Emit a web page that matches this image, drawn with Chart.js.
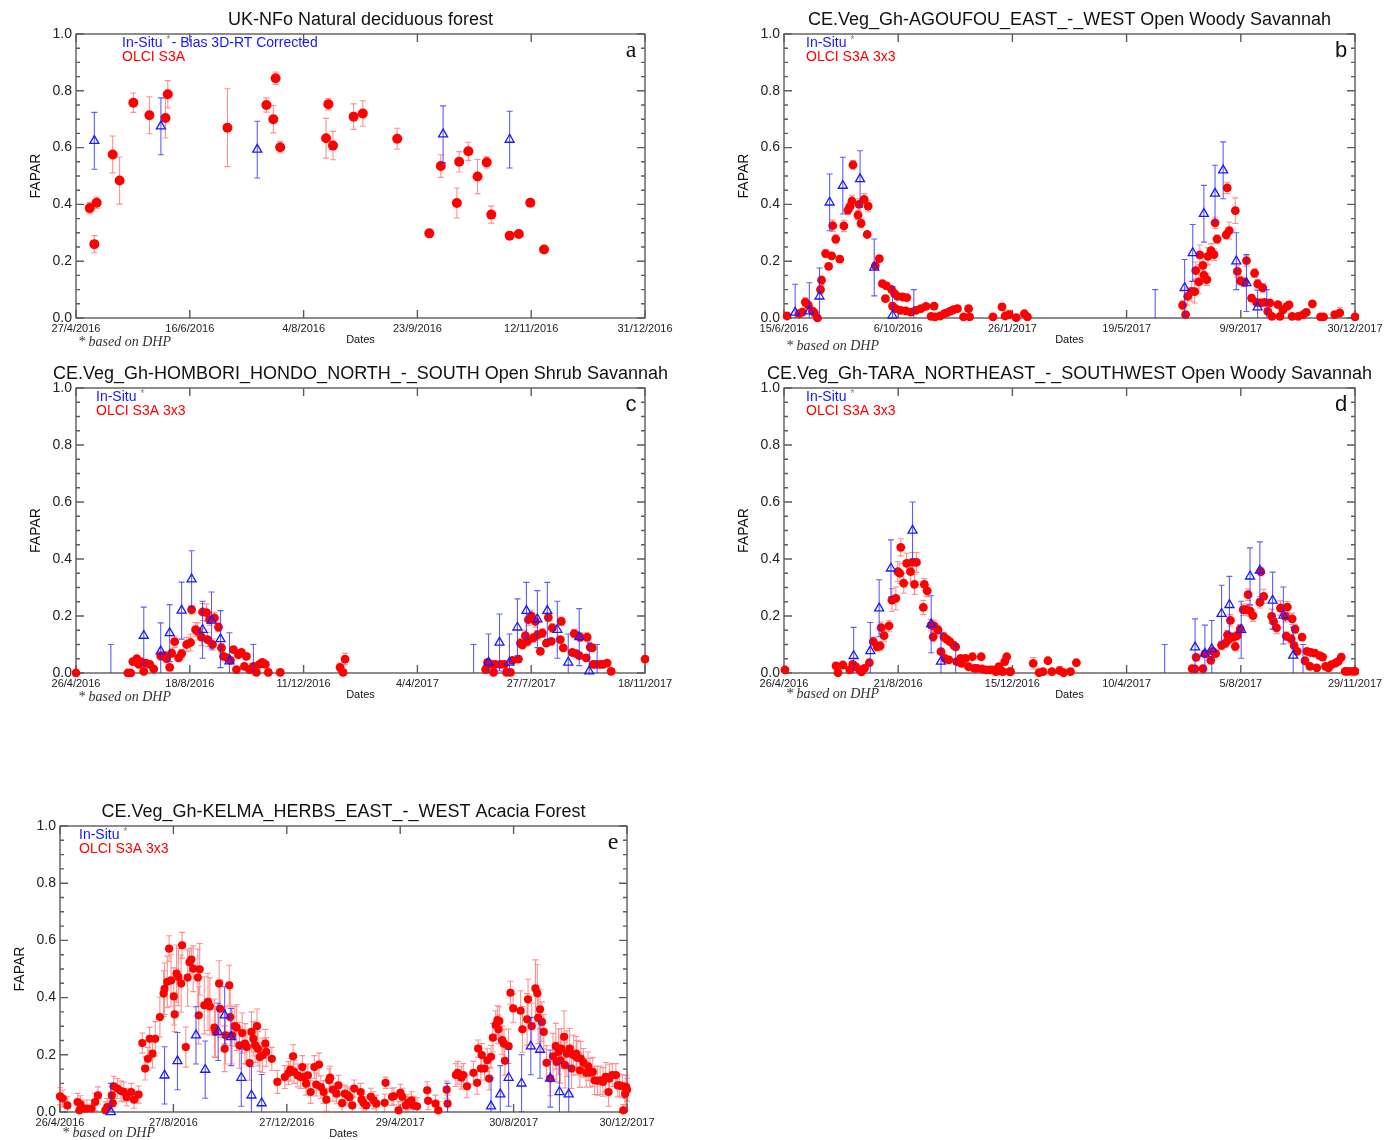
<!DOCTYPE html>
<html>
<head>
<meta charset="utf-8">
<script src="https://cdn.jsdelivr.net/npm/chart.js@4.4.1/dist/chart.umd.min.js"></script>
<style>
  body { margin: 0; background: #fff; width: 1395px; height: 1140px; position: relative; overflow: hidden; }
  canvas { position: absolute; }
</style>
</head>
<body>
<canvas id="panelA" width="690" height="355" style="left:0;top:0"></canvas>
<canvas id="panelB" width="695" height="355" style="left:700px;top:0"></canvas>
<canvas id="panelC" width="690" height="345" style="left:0;top:360px"></canvas>
<canvas id="panelD" width="695" height="345" style="left:700px;top:360px"></canvas>
<canvas id="panelE" width="690" height="345" style="left:0;top:795px"></canvas>
<script>
// FAPAR time series, OLCI S3A vs in-situ. x = days since the first axis date.

// --- a: UK-NFo ---
const datesA = ['27/4/2016', '16/6/2016', '4/8/2016', '23/9/2016', '12/11/2016', '31/12/2016']
const spanA = 248
const olciDayA = [6, 8, 9, 16, 19, 25, 32, 39, 40, 66, 83, 86, 87, 89, 109, 110, 112, 121, 125, 140,
  154, 159, 166, 167, 171, 175, 179, 181, 189, 193, 198, 204]
const olciFaparA = [0.387, 0.26, 0.406, 0.576, 0.484, 0.758, 0.714, 0.704, 0.788, 0.67, 0.75, 0.70, 0.844, 0.601, 0.633, 0.753, 0.607, 0.709, 0.72, 0.631,
  0.298, 0.535, 0.405, 0.55, 0.587, 0.498, 0.548, 0.364, 0.29, 0.296, 0.406, 0.241]
const olciErrA = [0.02, 0.03, 0.02, 0.065, 0.083, 0.034, 0.065, 0.07, 0.048, 0.137, 0.025, 0.048, 0.022, 0.02, 0.07, 0.02, 0.05, 0.045, 0.045, 0.037,
  0.005, 0.04, 0.053, 0.036, 0.032, 0.06, 0.02, 0.03, 0.005, 0.005, 0.012, 0.005]
const insituDayA = [8, 37, 79, 160, 189]
const insituFaparA = [0.624, 0.675, 0.593, 0.647, 0.628]
const insituErrA = [0.1, 0.1, 0.1, 0.1, 0.1]

// --- b: AGOUFOU ---
const datesB = ['15/6/2016', '6/10/2016', '26/1/2017', '19/5/2017', '9/9/2017', '30/12/2017']
const spanB = 563
const olciDayB = [3, 15, 18, 21, 24, 28, 30, 33, 36, 37, 41, 44, 47, 48, 51, 55, 59, 63, 65, 67,
  68, 73, 74, 76, 79, 82, 83, 90, 94, 97, 100, 101, 106, 107, 109, 110, 112, 115, 117, 120,
  121, 125, 130, 135, 140, 145, 148, 149, 154, 158, 161, 164, 167, 171, 177, 182, 183, 206, 215, 218,
  222, 229, 237, 240,
  393, 396, 398, 402, 405, 406, 409, 410, 413, 414, 417, 418, 421, 424, 425, 427, 436, 437, 439, 445,
  447, 450, 454, 456, 461, 464, 466, 467, 470, 472, 474, 477, 479, 481, 487, 489, 492, 496, 498, 501,
  507, 512, 515, 521, 529, 532, 543, 548, 563]
const olciFaparB = [0.007, 0.015, 0.021, 0.056, 0.045, 0.025, 0.018, 0.0, 0.10, 0.133, 0.227, 0.182, 0.219, 0.325, 0.278, 0.207, 0.324, 0.38, 0.392, 0.412,
  0.539, 0.362, 0.40, 0.333, 0.418, 0.294, 0.394, 0.184, 0.209, 0.121, 0.068, 0.113, 0.101, 0.042, 0.086, 0.033, 0.076, 0.027, 0.074, 0.025,
  0.072, 0.021, 0.027, 0.033, 0.041, 0.006, 0.042, 0.004, 0.007, 0.015, 0.019, 0.024, 0.029, 0.033, 0.004, 0.033, 0.004, 0.004, 0.039, 0.007,
  0.012, 0.001, 0.015, 0.004,
  0.045, 0.012, 0.076, 0.094, 0.093, 0.167, 0.127, 0.222, 0.185, 0.151, 0.135, 0.217, 0.237, 0.223, 0.335, 0.278, 0.293, 0.458, 0.308, 0.378,
  0.164, 0.131, 0.126, 0.202, 0.07, 0.158, 0.055, 0.12, 0.053, 0.106, 0.055, 0.023, 0.053, 0.006, 0.047, 0.006, 0.029, 0.041, 0.046, 0.006,
  0.006, 0.012, 0.02, 0.05, 0.004, 0.004, 0.012, 0.018, 0.004]
const olciErrB = [0.01, 0.01, 0.01, 0.015, 0.01, 0.01, 0.01, 0.005, 0.015, 0.015, 0.015, 0.01, 0.01, 0.02, 0.015, 0.01, 0.02, 0.015, 0.015, 0.02,
  0.015, 0.015, 0.02, 0.015, 0.02, 0.01, 0.02, 0.01, 0.01, 0.01, 0.01, 0.01, 0.01, 0.01, 0.01, 0.01, 0.01, 0.01, 0.01, 0.01,
  0.01, 0.01, 0.01, 0.01, 0.01, 0.01, 0.01, 0.01, 0.01, 0.01, 0.01, 0.01, 0.01, 0.01, 0.005, 0.01, 0.005, 0.005, 0.012, 0.005,
  0.015, 0.005, 0.01, 0.005,
  0.015, 0.01, 0.03, 0.035, 0.04, 0.03, 0.04, 0.035, 0.03, 0.03, 0.02, 0.03, 0.025, 0.02, 0.02, 0.015, 0.015, 0.02, 0.03, 0.045,
  0.02, 0.015, 0.015, 0.02, 0.01, 0.015, 0.01, 0.015, 0.01, 0.015, 0.01, 0.01, 0.01, 0.005, 0.01, 0.005, 0.01, 0.01, 0.01, 0.005,
  0.005, 0.01, 0.01, 0.01, 0.005, 0.005, 0.01, 0.02, 0.005]
const insituDayB = [11, 25, 35, 45, 58, 75, 89, 107, 128, 366, 395, 403, 414, 425, 433, 446, 456, 467, 476]
const insituFaparB = [0.019, 0.024, 0.076, 0.407, 0.466, 0.489, 0.178, 0.009, -0.03, -0.03, 0.106, 0.229, 0.367, 0.438, 0.52, 0.2, 0.123, 0.038, -0.03]
const insituErrB = [0.1, 0.1, 0.1, 0.1, 0.1, 0.1, 0.1, 0.1, 0.13, 0.13, 0.1, 0.1, 0.1, 0.1, 0.1, 0.1, 0.1, 0.06, 0.13]

// --- c: HOMBORI ---
const datesC = ['26/4/2016', '18/8/2016', '11/12/2016', '4/4/2017', '27/7/2017', '18/11/2017']
const spanC = 571
const olciDayC = [0, 52, 55, 57, 61, 63, 65, 68, 70, 74, 78, 85, 89, 91, 94, 96, 99, 103, 106, 111,
  115, 116, 120, 122, 126, 127, 131, 132, 134, 137, 139, 143, 146, 148, 152, 155, 158, 161, 163, 166,
  169, 171, 174, 178, 181, 184, 187, 190, 193, 205, 265, 268, 270,
  411, 413, 417, 419, 421, 426, 430, 432, 436, 438, 444, 446, 448, 451, 453, 454, 457, 459, 461, 463,
  466, 468, 472, 474, 477, 478, 486, 487, 489, 498, 500, 502, 505, 506, 512, 513, 516, 518, 519, 522,
  526, 529, 533, 537, 571]
const olciFaparC = [0.0, 0.0, 0.0, 0.04, 0.05, 0.03, 0.04, 0.006, 0.035, 0.03, 0.014, 0.06, 0.06, 0.05, 0.02, 0.07, 0.11, 0.053, 0.068, 0.1,
  0.107, 0.222, 0.152, 0.146, 0.126, 0.214, 0.212, 0.117, 0.187, 0.1, 0.193, 0.161, 0.088, 0.058, 0.053, 0.044, 0.082, 0.012, 0.064, 0.072,
  0.023, 0.058, 0.012, 0.023, 0.002, 0.03, 0.037, 0.03, 0.002, 0.002, 0.02, 0.002, 0.049,
  0.012, 0.037, 0.03, 0.002, 0.03, 0.03, 0.03, 0.002, 0.002, 0.044, 0.049, 0.105, 0.099, 0.131, 0.111, 0.187, 0.2, 0.123, 0.181, 0.134,
  0.076, 0.14, 0.105, 0.195, 0.111, 0.158, 0.117, 0.181, 0.088, 0.072, 0.138, 0.068, 0.061, 0.126, 0.053, 0.126, 0.091, 0.088, 0.03, 0.03,
  0.03, 0.03, 0.035, 0.006, 0.049]
const olciErrC = [0.005, 0.005, 0.005, 0.01, 0.01, 0.01, 0.01, 0.005, 0.01, 0.01, 0.01, 0.015, 0.015, 0.01, 0.01, 0.015, 0.02, 0.01, 0.015, 0.025,
  0.03, 0.015, 0.025, 0.03, 0.03, 0.03, 0.03, 0.025, 0.02, 0.02, 0.02, 0.015, 0.015, 0.01, 0.01, 0.01, 0.01, 0.005, 0.01, 0.01,
  0.01, 0.01, 0.005, 0.01, 0.005, 0.01, 0.01, 0.01, 0.005, 0.005, 0.015, 0.005, 0.02,
  0.01, 0.01, 0.01, 0.005, 0.01, 0.01, 0.01, 0.005, 0.005, 0.01, 0.01, 0.015, 0.015, 0.02, 0.015, 0.02, 0.02, 0.015, 0.02, 0.015,
  0.01, 0.015, 0.01, 0.015, 0.01, 0.015, 0.01, 0.015, 0.01, 0.01, 0.015, 0.01, 0.01, 0.015, 0.01, 0.015, 0.01, 0.01, 0.01, 0.01,
  0.01, 0.01, 0.01, 0.005, 0.01]
const insituDayC = [35, 68, 85, 94, 106, 116, 127, 136, 145, 154, 178, 399, 414, 425, 435, 443, 452, 463, 473, 483, 494, 505, 515, 523]
const insituFaparC = [-0.03, 0.131, 0.076, 0.14, 0.219, 0.329, 0.152, 0.184, 0.119, 0.041, -0.03, -0.03, 0.037, 0.107, 0.037, 0.16, 0.218, 0.189, 0.218, 0.152, 0.037, 0.126, 0.006, -0.03]
const insituErrC = [0.13, 0.1, 0.1, 0.1, 0.1, 0.1, 0.1, 0.1, 0.1, 0.1, 0.13, 0.13, 0.1, 0.1, 0.1, 0.1, 0.1, 0.1, 0.1, 0.1, 0.1, 0.1, 0.1, 0.13]

// --- d: TARA ---
const datesD = ['26/4/2016', '21/8/2016', '15/12/2016', '10/4/2017', '5/8/2017', '29/11/2017']
const spanD = 582
const olciDayD = [1, 53, 55, 60, 67, 70, 73, 77, 79, 82, 87, 91, 95, 98, 99, 102, 107, 110, 114, 116,
  118, 119, 122, 125, 129, 131, 133, 135, 142, 143, 146, 150, 152, 153, 157, 160, 163, 164, 166, 168,
  169, 173, 175, 176, 180, 181, 185, 188, 192, 194, 197, 201, 202, 206, 210, 213, 216, 219, 221, 223,
  225, 227, 230, 231, 254, 260, 264, 269, 273, 281, 285, 292, 298,
  416, 419, 420, 427, 429, 435, 437, 440, 446, 450, 452, 453, 455, 458, 460, 462, 465, 468, 471, 473,
  475, 478, 485, 486, 489, 497, 499, 502, 506, 511, 512, 513, 517, 518, 520, 521, 523, 528, 531, 533,
  536, 537, 541, 543, 546, 549, 552, 555, 558, 562, 565, 568, 572, 575, 579, 582]
const olciFaparD = [0.011, 0.025, 0.001, 0.028, 0.011, 0.03, 0.022, 0.011, 0.004, 0.016, 0.036, 0.11, 0.092, 0.095, 0.159, 0.131, 0.165, 0.256, 0.262, 0.356,
  0.35, 0.441, 0.315, 0.385, 0.356, 0.388, 0.311, 0.388, 0.23, 0.311, 0.288, 0.168, 0.127, 0.165, 0.151, 0.075, 0.127, 0.051, 0.118, 0.046,
  0.11, 0.098, 0.092, 0.04, 0.051, 0.034, 0.051, 0.022, 0.057, 0.016, 0.016, 0.057, 0.014, 0.011, 0.011, 0.011, 0.005, 0.022, 0.008, 0.005,
  0.04, 0.057, 0.005, 0.005, 0.034, 0.001, 0.005, 0.043, 0.005, 0.008, 0.001, 0.005, 0.036,
  0.015, 0.014, 0.055, 0.015, 0.067, 0.044, 0.076, 0.068, 0.097, 0.105, 0.134, 0.117, 0.185, 0.126, 0.093, 0.131, 0.155, 0.222, 0.222, 0.275,
  0.218, 0.201, 0.248, 0.356, 0.269, 0.199, 0.181, 0.158, 0.228, 0.199, 0.129, 0.231, 0.12, 0.19, 0.096, 0.154, 0.076, 0.126, 0.043, 0.076,
  0.023, 0.072, 0.07, 0.018, 0.061, 0.056, 0.023, 0.018, 0.029, 0.035, 0.041, 0.056, 0.006, 0.006, 0.006, 0.006]
const olciErrD = [0.005, 0.01, 0.005, 0.01, 0.005, 0.01, 0.01, 0.005, 0.005, 0.01, 0.01, 0.015, 0.015, 0.015, 0.02, 0.02, 0.02, 0.04, 0.04, 0.035,
  0.035, 0.03, 0.035, 0.035, 0.04, 0.035, 0.035, 0.035, 0.025, 0.02, 0.02, 0.02, 0.015, 0.02, 0.015, 0.01, 0.015, 0.01, 0.01, 0.01,
  0.01, 0.01, 0.01, 0.01, 0.01, 0.01, 0.01, 0.005, 0.01, 0.005, 0.005, 0.01, 0.005, 0.005, 0.005, 0.005, 0.005, 0.005, 0.005, 0.005,
  0.01, 0.01, 0.005, 0.005, 0.02, 0.005, 0.005, 0.01, 0.005, 0.015, 0.005, 0.005, 0.01,
  0.005, 0.005, 0.01, 0.005, 0.01, 0.01, 0.01, 0.01, 0.015, 0.015, 0.015, 0.015, 0.02, 0.015, 0.015, 0.015, 0.015, 0.02, 0.02, 0.02,
  0.02, 0.02, 0.02, 0.015, 0.025, 0.025, 0.025, 0.02, 0.025, 0.02, 0.015, 0.02, 0.015, 0.02, 0.01, 0.015, 0.01, 0.01, 0.01, 0.01,
  0.01, 0.01, 0.01, 0.005, 0.01, 0.01, 0.005, 0.005, 0.005, 0.005, 0.01, 0.01, 0.005, 0.005, 0.005, 0.005]
const insituDayD = [71, 88, 97, 109, 131, 150, 160, 175, 388, 419, 429, 436, 446, 454, 466, 475, 485, 498, 509, 519, 529]
const insituFaparD = [0.06, 0.077, 0.227, 0.367, 0.5, 0.171, 0.04, -0.03, -0.03, 0.09, 0.068, 0.084, 0.208, 0.239, 0.152, 0.339, 0.36, 0.254, 0.202, 0.061, -0.03]
const insituErrD = [0.1, 0.1, 0.1, 0.1, 0.1, 0.1, 0.1, 0.13, 0.13, 0.1, 0.1, 0.1, 0.1, 0.1, 0.1, 0.1, 0.1, 0.1, 0.1, 0.1, 0.13]

// --- e: KELMA ---
const datesE = ['26/4/2016', '27/8/2016', '27/12/2016', '29/4/2017', '30/8/2017', '30/12/2017']
const spanE = 613
const olciDayE = [0, 3, 8, 19, 21, 22, 26, 29, 34, 38, 41, 49, 51, 56, 57, 58, 62, 66, 69, 72,
  77, 80, 85, 89, 92, 95, 97, 100, 103, 108, 112, 113, 116, 118, 120, 123, 124, 126, 128, 131,
  132, 136, 138, 140, 142, 144, 149, 150, 151, 156, 160, 162, 167, 168, 172, 173, 178, 179, 183, 184,
  186, 189, 191, 194, 197, 200, 202, 205, 207, 209, 211, 213, 214, 216, 219, 222, 223, 229, 235, 243,
  247, 249, 252, 253, 257, 260, 262, 264, 266, 268, 271, 275, 277, 280, 282, 285, 288, 291, 292, 295,
  299, 301, 305, 308, 311, 313, 316, 318,
  325, 326, 328, 331, 336, 339, 342, 351, 352, 359, 361, 366, 368, 370, 374, 376, 380, 382, 386, 397,
  398, 406, 409, 418, 419, 428, 430, 434, 436, 440, 447, 451, 452, 455, 456, 459, 462, 464, 466, 468,
  471, 473, 474, 475, 478, 480, 481, 485, 487, 490, 498, 500, 505, 506, 510, 514, 516, 517, 519, 521,
  523, 526, 530, 533, 536, 537, 539, 541, 542, 545, 546, 548, 551, 553, 555, 558, 559, 562, 563, 566,
  569, 571, 573, 576, 578, 581, 584, 587, 590, 593, 594, 597, 601, 603, 605, 608, 609, 611, 612, 613]
const olciFaparE = [0.055, 0.047, 0.023, 0.035, 0.006, 0.027, 0.012, 0.012, 0.012, 0.035, 0.058, 0.006, 0.017, 0.058, 0.031, 0.09, 0.082, 0.073, 0.07, 0.052,
  0.07, 0.043, 0.061, 0.241, 0.152, 0.186, 0.256, 0.204, 0.256, 0.332, 0.414, 0.431, 0.455, 0.571, 0.46, 0.404, 0.341, 0.484, 0.472, 0.449,
  0.583, 0.227, 0.47, 0.524, 0.533, 0.501, 0.47, 0.338, 0.499, 0.373, 0.385, 0.369, 0.295, 0.28, 0.449, 0.361, 0.221, 0.268, 0.443, 0.332,
  0.268, 0.3, 0.295, 0.233, 0.276, 0.239, 0.227, 0.171, 0.28, 0.256, 0.233, 0.3, 0.221, 0.192, 0.198, 0.239, 0.21, 0.186, 0.105, 0.122,
  0.136, 0.148, 0.195, 0.14, 0.128, 0.122, 0.157, 0.122, 0.099, 0.128, 0.07, 0.157, 0.096, 0.166, 0.087, 0.07, 0.043, 0.111, 0.12, 0.078,
  0.064, 0.093, 0.031, 0.064, 0.058, 0.052, 0.023, 0.082,
  0.07, 0.043, 0.032, 0.023, 0.053, 0.041, 0.029, 0.032, 0.102, 0.053, 0.055, 0.006, 0.067, 0.053, 0.023, 0.032, 0.041, 0.023, 0.02, 0.076,
  0.039, 0.029, 0.006, 0.078, 0.029, 0.129, 0.137, 0.12, 0.129, 0.09, 0.137, 0.102, 0.222, 0.152, 0.199, 0.152, 0.181, 0.117, 0.193, 0.26,
  0.304, 0.321, 0.289, 0.318, 0.251, 0.239, 0.179, 0.23, 0.417, 0.362, 0.354, 0.289, 0.324, 0.394, 0.3, 0.432, 0.415, 0.329, 0.359, 0.315,
  0.28, 0.172, 0.117, 0.195, 0.23, 0.175, 0.21, 0.181, 0.222, 0.263, 0.164, 0.204, 0.222, 0.152, 0.199, 0.204, 0.19, 0.146, 0.187, 0.172,
  0.137, 0.16, 0.137, 0.14, 0.111, 0.109, 0.111, 0.105, 0.123, 0.07, 0.117, 0.129, 0.129, 0.093, 0.093, 0.09, 0.006, 0.064, 0.088, 0.078]
const olciErrE = [0.03, 0.03, 0.03, 0.03, 0.03, 0.03, 0.03, 0.03, 0.03, 0.03, 0.03, 0.03, 0.03, 0.03, 0.03, 0.035, 0.035, 0.035, 0.035, 0.03,
  0.03, 0.03, 0.03, 0.035, 0.04, 0.04, 0.04, 0.05, 0.06, 0.07, 0.08, 0.09, 0.09, 0.045, 0.09, 0.1, 0.06, 0.1, 0.1, 0.1,
  0.045, 0.07, 0.1, 0.04, 0.04, 0.08, 0.1, 0.1, 0.09, 0.1, 0.1, 0.1, 0.1, 0.09, 0.08, 0.1, 0.08, 0.1, 0.07, 0.1,
  0.1, 0.07, 0.08, 0.08, 0.07, 0.07, 0.06, 0.06, 0.07, 0.06, 0.06, 0.06, 0.06, 0.05, 0.06, 0.05, 0.05, 0.04, 0.04, 0.04,
  0.04, 0.04, 0.04, 0.04, 0.04, 0.04, 0.04, 0.04, 0.04, 0.04, 0.04, 0.04, 0.04, 0.04, 0.04, 0.04, 0.04, 0.04, 0.04, 0.04,
  0.035, 0.035, 0.03, 0.03, 0.03, 0.03, 0.03, 0.03,
  0.03, 0.03, 0.03, 0.03, 0.03, 0.03, 0.03, 0.03, 0.02, 0.03, 0.03, 0.03, 0.03, 0.03, 0.03, 0.03, 0.03, 0.03, 0.03, 0.03,
  0.03, 0.03, 0.03, 0.03, 0.03, 0.04, 0.04, 0.04, 0.04, 0.04, 0.04, 0.04, 0.03, 0.04, 0.04, 0.04, 0.04, 0.04, 0.04, 0.05,
  0.05, 0.05, 0.05, 0.05, 0.05, 0.05, 0.05, 0.06, 0.04, 0.05, 0.07, 0.08, 0.09, 0.07, 0.08, 0.1, 0.1, 0.09, 0.07, 0.07,
  0.06, 0.06, 0.06, 0.08, 0.08, 0.07, 0.08, 0.08, 0.07, 0.09, 0.08, 0.08, 0.07, 0.07, 0.07, 0.06, 0.06, 0.06, 0.06, 0.05,
  0.05, 0.05, 0.05, 0.05, 0.05, 0.05, 0.05, 0.05, 0.05, 0.05, 0.05, 0.04, 0.04, 0.04, 0.04, 0.04, 0.02, 0.04, 0.04, 0.04]
const insituDayE = [55, 113, 127, 147, 157, 171, 178, 185, 196, 207, 218, 419, 466, 476, 485, 499, 509, 519, 530, 540, 550]
const insituFaparE = [0.0, 0.128, 0.178, 0.268, 0.148, 0.28, 0.338, 0.262, 0.12, 0.058, 0.031, -0.03, 0.02, 0.062, 0.12, 0.1, 0.23, 0.218, 0.117, 0.07, 0.062]
const insituErrE = [0.1, 0.1, 0.1, 0.1, 0.1, 0.1, 0.1, 0.1, 0.1, 0.1, 0.1, 0.13, 0.1, 0.1, 0.1, 0.1, 0.1, 0.1, 0.1, 0.1, 0.1]

const SANS = '"Liberation Sans", Arial, sans-serif'
const SERIF = '"Liberation Serif", "Times New Roman", serif'
Chart.defaults.font.family = SANS

// box with inward ticks on all four sides (IDL look)
const frameTicks = {
  id: 'frameTicks',
  beforeDatasetsDraw(chart) {
    const {ctx, chartArea: a, scales: {x, y}} = chart
    ctx.save()
    ctx.strokeStyle = '#5c5c5c'
    ctx.lineWidth = 1.4
    ctx.strokeRect(a.left, a.top, a.right - a.left, a.bottom - a.top)
    ctx.beginPath()
    for (let k = 0; k <= 20; k++) {
      const py = y.getPixelForValue(k * 0.05)
      const len = k % 4 === 0 ? 8 : 4
      ctx.moveTo(a.left, py); ctx.lineTo(a.left + len, py)
      ctx.moveTo(a.right, py); ctx.lineTo(a.right - len, py)
    }
    x.ticks.forEach(t => {
      const px = x.getPixelForValue(t.value)
      ctx.moveTo(px, a.bottom); ctx.lineTo(px, a.bottom - 8)
      ctx.moveTo(px, a.top); ctx.lineTo(px, a.top + 8)
    })
    ctx.stroke()
    ctx.restore()
  }
}

// vertical error bars with caps, drawn just before each dataset's markers
const errorBars = {
  id: 'errorBars',
  beforeDatasetDraw(chart, args) {
    const {ctx, chartArea: a, scales: {y}} = chart
    const ds = chart.data.datasets[args.index]
    ctx.save()
    ctx.beginPath()
    ctx.rect(a.left - 6, a.top, a.right - a.left + 12, a.bottom - a.top)
    ctx.clip()
    ctx.strokeStyle = ds.errColor
    ctx.lineWidth = 1.1
    ctx.beginPath()
    args.meta.data.forEach((pt, i) => {
      const r = ds.data[i]
      if (!r.e) return
      const y1 = y.getPixelForValue(r.y + r.e)
      const y2 = y.getPixelForValue(r.y - r.e)
      ctx.moveTo(pt.x, y1); ctx.lineTo(pt.x, y2)
      ctx.moveTo(pt.x - 3, y1); ctx.lineTo(pt.x + 3, y1)
      ctx.moveTo(pt.x - 3, y2); ctx.lineTo(pt.x + 3, y2)
    })
    ctx.stroke()
    ctx.restore()
  }
}

// title, legend, panel letter, axis names and footnote
const panelText = {
  id: 'panelText',
  afterDraw(chart, args, o) {
    const {ctx, chartArea: a} = chart
    const cx = (a.left + a.right) / 2
    ctx.save()
    ctx.textBaseline = 'middle'
    ctx.textAlign = 'center'
    ctx.fillStyle = '#111'
    ctx.font = '18px ' + SANS
    ctx.fillText(o.title, cx, a.top - 13.5)

    ctx.font = '11px ' + SANS
    ctx.fillText('Dates', cx, a.bottom + 22)

    ctx.save()
    ctx.translate(a.left - 40, (a.top + a.bottom) / 2)
    ctx.rotate(-Math.PI / 2)
    ctx.font = '14px ' + SANS
    ctx.fillText('FAPAR', 0, 0)
    ctx.restore()

    ctx.font = o.letterFont
    ctx.fillText(o.letter, a.right - 14, a.top + 17)

    // legend
    ctx.textAlign = 'left'
    let lx = a.left + o.legendDx
    ctx.font = '14px ' + SANS
    ctx.fillStyle = '#1515ff'
    ctx.fillText('In-Situ', lx, a.top + 9)
    lx += ctx.measureText('In-Situ ').width
    ctx.fillStyle = '#8a8a8a'
    ctx.font = '11px ' + SANS
    ctx.fillText('*', lx, a.top + 6)
    if (o.insituNote) {
      lx += ctx.measureText('* ').width - 2
      ctx.font = '14px ' + SANS
      ctx.fillStyle = '#1515ff'
      ctx.fillText(o.insituNote, lx, a.top + 9)
    }
    ctx.font = '14px ' + SANS
    ctx.fillStyle = '#ff0000'
    ctx.fillText(o.olciLabel, a.left + o.legendDx, a.top + 23.5)

    ctx.fillStyle = '#333'
    ctx.font = 'italic 14px ' + SERIF
    ctx.fillText('* based on DHP', a.left + 2, a.bottom + o.footDy)
    ctx.restore()
  }
}

function toPoints(days, vals, errs) {
  return days.map((d, i) => ({x: d, y: vals[i], e: errs[i]}))
}

function makePanel(id, p) {
  const cv = document.getElementById(id)
  const W = cv.width, H = cv.height
  new Chart(cv, {
    type: 'scatter',
    data: {
      datasets: [{
        data: toPoints(p.insituDay, p.insituFapar, p.insituErr),
        pointStyle: 'triangle',
        pointRadius: 5.2,
        pointBorderWidth: 1.3,
        borderColor: '#1a1aff',
        backgroundColor: 'rgba(0,0,0,0)',
        errColor: 'rgba(40,40,255,0.75)',
        clip: 4
      }, {
        data: toPoints(p.olciDay, p.olciFapar, p.olciErr),
        pointStyle: 'circle',
        pointRadius: p.dot,
        pointBorderWidth: 0,
        borderColor: '#ff0000',
        backgroundColor: '#ff0000',
        errColor: 'rgba(255,70,70,0.6)',
        clip: 4
      }]
    },
    options: {
      responsive: false,
      animation: false,
      events: [],
      layout: {padding: {left: 0, top: p.area.top, right: W - p.area.right, bottom: 0}},
      plugins: {
        legend: {display: false},
        tooltip: {enabled: false},
        panelText: p.text
      },
      scales: {
        x: {
          type: 'linear',
          min: 0,
          max: p.span,
          grid: {display: false, drawTicks: false},
          border: {display: false},
          afterBuildTicks: s => { s.ticks = p.dates.map((_, i) => ({value: p.span * i / 5})) },
          afterFit: s => { s.height = H - p.area.bottom },
          ticks: {
            autoSkip: false, maxRotation: 0, minRotation: 0, padding: 4,
            color: '#222', font: {size: 11},
            callback: (v, i) => p.dates[i]
          }
        },
        y: {
          min: 0,
          max: 1,
          grid: {display: false, drawTicks: false},
          border: {display: false},
          afterFit: s => { s.width = p.area.left },
          ticks: {
            stepSize: 0.2, padding: 4, color: '#222', font: {size: 14},
            callback: v => v.toFixed(1)
          }
        }
      }
    },
    plugins: [frameTicks, errorBars, panelText]
  })
}

makePanel('panelA', {
  dates: datesA, span: spanA, dot: 5,
  olciDay: olciDayA, olciFapar: olciFaparA, olciErr: olciErrA,
  insituDay: insituDayA, insituFapar: insituFaparA, insituErr: insituErrA,
  area: {left: 76, right: 645, top: 34, bottom: 318},
  text: {title: 'UK-NFo Natural deciduous forest', letter: 'a', letterFont: '24px ' + SERIF,
    legendDx: 46, insituNote: '- Bias 3D-RT Corrected', olciLabel: 'OLCI S3A', footDy: 24}
})
makePanel('panelB', {
  dates: datesB, span: spanB, dot: 4.4,
  olciDay: olciDayB, olciFapar: olciFaparB, olciErr: olciErrB,
  insituDay: insituDayB, insituFapar: insituFaparB, insituErr: insituErrB,
  area: {left: 84, right: 655, top: 34, bottom: 318},
  text: {title: 'CE.Veg_Gh-AGOUFOU_EAST_-_WEST Open Woody Savannah', letter: 'b', letterFont: '22px ' + SANS,
    legendDx: 22, olciLabel: 'OLCI S3A 3x3', footDy: 28}
})
makePanel('panelC', {
  dates: datesC, span: spanC, dot: 4.4,
  olciDay: olciDayC, olciFapar: olciFaparC, olciErr: olciErrC,
  insituDay: insituDayC, insituFapar: insituFaparC, insituErr: insituErrC,
  area: {left: 76, right: 645, top: 28, bottom: 313},
  text: {title: 'CE.Veg_Gh-HOMBORI_HONDO_NORTH_-_SOUTH Open Shrub Savannah', letter: 'c', letterFont: '22px ' + SANS,
    legendDx: 20, olciLabel: 'OLCI S3A 3x3', footDy: 24}
})
makePanel('panelD', {
  dates: datesD, span: spanD, dot: 4.4,
  olciDay: olciDayD, olciFapar: olciFaparD, olciErr: olciErrD,
  insituDay: insituDayD, insituFapar: insituFaparD, insituErr: insituErrD,
  area: {left: 84, right: 655, top: 28, bottom: 313},
  text: {title: 'CE.Veg_Gh-TARA_NORTHEAST_-_SOUTHWEST Open Woody Savannah', letter: 'd', letterFont: '22px ' + SANS,
    legendDx: 22, olciLabel: 'OLCI S3A 3x3', footDy: 21}
})
makePanel('panelE', {
  dates: datesE, span: spanE, dot: 4.1,
  olciDay: olciDayE, olciFapar: olciFaparE, olciErr: olciErrE,
  insituDay: insituDayE, insituFapar: insituFaparE, insituErr: insituErrE,
  area: {left: 60, right: 627, top: 31, bottom: 317},
  text: {title: 'CE.Veg_Gh-KELMA_HERBS_EAST_-_WEST Acacia Forest', letter: 'e', letterFont: '24px ' + SERIF,
    legendDx: 19, olciLabel: 'OLCI S3A 3x3', footDy: 21}
})
</script>
</body>
</html>
